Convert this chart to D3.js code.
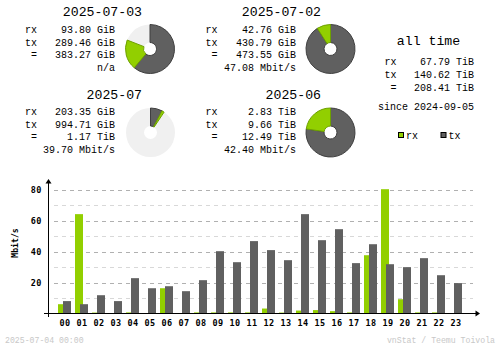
<!DOCTYPE html>
<html><head><meta charset="utf-8">
<script src="https://cdn.jsdelivr.net/npm/d3@7/dist/d3.min.js"></script>
<style>
html,body{margin:0;padding:0;background:#fff;}
svg{display:block;}
text{font-family:"Liberation Mono","DejaVu Sans Mono",monospace;}
text.b{font-family:"DejaVu Sans Mono",monospace;}
</style></head><body>
<svg id="c" width="500" height="348"></svg>
<script>
// ---- data ----
const hours = ["00","01","02","03","04","05","06","07","08","09","10","11","12","13","14","15","16","17","18","19","20","21","22","23"];
const rxMbit = [6.0,64.1,0.6,0,0.7,0,16.3,0,0.7,0.7,0.7,0.7,3.2,0.6,1.9,2.2,1.5,0.7,37.6,80.2,9.2,0.7,0.7,0];
const txMbit = [8.0,6.0,11.8,8.0,22.8,16.3,17.6,14.4,21.5,40.2,33.1,46.7,40.9,34.4,64.1,47.3,54.4,32.5,44.7,31.8,29.9,35.7,24.7,19.6];
const yMajorTicks = [20,40,60,80];
const yMinorTicks = [10,30,50,70];

const summaryTitles = ["2025-07-03","2025-07-02","2025-07","2025-06"];
const summaryRx = ["93.80 GiB","42.76 GiB","203.35 GiB","2.83 TiB"];
const summaryTx = ["289.46 GiB","430.79 GiB","994.71 GiB","9.66 TiB"];
const summaryTotal = ["383.27 GiB","473.55 GiB","1.17 TiB","12.49 TiB"];
const summaryRate = ["n/a","47.08 Mbit/s","39.70 Mbit/s","42.40 Mbit/s"];
const pieRxGiB = [93.80, 42.76, 203.35, 2.83*1024];
const pieTxGiB = [289.46, 430.79, 994.71, 9.66*1024];
const pieRefGiB = [473.55, 473.55, 12.49*1024, 12.49*1024];

const allTimeRx = "67.79 TiB", allTimeTx = "140.62 TiB", allTimeTotal = "208.41 TiB";
const sinceText = "since 2024-09-05";
const stampText = "2025-07-04 00:00";
const creditText = "vnStat / Teemu Toivola";

// ---- colors ----
const cRx = "#92cf00", cRxD = "#6ea100", cTx = "#606060", cTxD = "#3f3f3f";
const cLine = "#b0b0b0", cLineL = "#d8d8d8", cPieBg = "#f0f0f0";

const svg = d3.select("#c");

// ---- summary blocks ----
const blocks = [
  {i:0, lx:25, vx:115, tx:142, ty:16, r0:33, cx:150, cy:49},
  {i:1, lx:205.5, vx:296, tx:321, ty:16, r0:33, cx:330.5, cy:49},
  {i:2, lx:25, vx:115, tx:142, ty:99, r0:115, cx:150.5, cy:132.5},
  {i:3, lx:205.5, vx:296, tx:321, ty:99, r0:115, cx:330.5, cy:132.5}
];
const arc = d3.arc().innerRadius(6.5).outerRadius(24.5);
const lh = 12.5;
blocks.forEach(b => {
  const g = svg.append("g");
  g.append("text").attr("x", b.tx).attr("y", b.ty).attr("text-anchor","end")
    .attr("font-size", 13.2).text(summaryTitles[b.i]);
  const rows = [["rx", summaryRx[b.i]], ["tx", summaryTx[b.i]], [" =", summaryTotal[b.i]]];
  rows.forEach((r, k) => {
    g.append("text").attr("x", b.lx).attr("y", b.r0 + k*lh).attr("font-size", 10)
      .attr("xml:space","preserve").style("white-space","pre").text(r[0]);
    g.append("text").attr("x", b.vx).attr("y", b.r0 + k*lh).attr("font-size", 10)
      .attr("text-anchor","end").text(r[1]);
  });
  g.append("text").attr("x", b.vx).attr("y", b.r0 + 3*lh).attr("font-size", 10)
    .attr("text-anchor","end").text(summaryRate[b.i]);

  // pie
  const ang = d3.scaleLinear().domain([0, pieRefGiB[b.i]]).range([0, 2*Math.PI]);
  const pg = g.append("g").attr("transform", `translate(${b.cx},${b.cy})`);
  pg.append("path").attr("d", arc({startAngle:0, endAngle:2*Math.PI})).attr("fill", cPieBg);
  const aTx = ang(pieTxGiB[b.i]);
  const aRx = ang(pieTxGiB[b.i] + pieRxGiB[b.i]);
  pg.append("path").attr("d", arc({startAngle:0, endAngle:aTx}))
    .attr("fill", cTx).attr("stroke", cTxD).attr("stroke-width", 1);
  pg.append("path").attr("d", arc({startAngle:aTx, endAngle:Math.min(aRx, 2*Math.PI)}))
    .attr("fill", cRx).attr("stroke", cRxD).attr("stroke-width", 1);
});

// ---- all time ----
svg.append("text").attr("x", 428.5).attr("y", 44.5).attr("text-anchor","middle")
  .attr("font-size", 13.2).attr("xml:space","preserve").style("white-space","pre").text("all time");
[["rx", allTimeRx], ["tx", allTimeTx], [" =", allTimeTotal]].forEach((r, k) => {
  svg.append("text").attr("x", 384.5).attr("y", 64.5 + k*13).attr("font-size", 10)
    .attr("xml:space","preserve").style("white-space","pre").text(r[0]);
  svg.append("text").attr("x", 474).attr("y", 64.5 + k*13).attr("font-size", 10)
    .attr("text-anchor","end").text(r[1]);
});
svg.append("text").attr("x", 474).attr("y", 110).attr("font-size", 10)
  .attr("text-anchor","end").text(sinceText);
// legend
[["rx", cRx, 398.5], ["tx", cTx, 441]].forEach(l => {
  svg.append("rect").attr("x", l[2]).attr("y", 132.5).attr("width", 5).attr("height", 5)
    .attr("fill", l[1]).attr("stroke", "#000").attr("stroke-width", 1);
  svg.append("text").attr("x", l[2] + 7.5).attr("y", 139).attr("font-size", 10).text(l[0]);
});

// ---- hourly bar chart ----
const x = d3.scaleBand().domain(hours).range([56, 464]).paddingInner(0).paddingOuter(0);
const y = d3.scaleLinear().domain([0, 80]).range([313.5, 189.5]);
const gridX0 = 54, gridX1 = 473;

svg.append("g").selectAll("line").data(yMinorTicks).join("line")
  .attr("x1", gridX0).attr("x2", gridX1)
  .attr("y1", d => Math.round(y(d)) + 0.5).attr("y2", d => Math.round(y(d)) + 0.5)
  .attr("stroke", cLineL).attr("stroke-dasharray", "4,4");
svg.append("g").selectAll("line").data(yMajorTicks).join("line")
  .attr("x1", gridX0).attr("x2", gridX1)
  .attr("y1", d => Math.round(y(d)) + 0.5).attr("y2", d => Math.round(y(d)) + 0.5)
  .attr("stroke", cLine).attr("stroke-dasharray", "4,4");

// bars
const bars = svg.append("g");
bars.selectAll("rect.rx").data(hours).join("rect").attr("class","rx")
  .attr("x", d => x(d) + 2).attr("width", 8)
  .attr("y", (d,i) => y(rxMbit[i])).attr("height", (d,i) => y(0) - y(rxMbit[i]))
  .attr("fill", cRx);
bars.selectAll("rect.tx").data(hours).join("rect").attr("class","tx")
  .attr("x", d => x(d) + 7).attr("width", 8)
  .attr("y", (d,i) => y(txMbit[i])).attr("height", (d,i) => y(0) - y(txMbit[i]))
  .attr("fill", cTx);

// axes
const ax = svg.append("g");
ax.append("line").attr("x1", 48.5).attr("x2", 48.5).attr("y1", 181).attr("y2", 317).attr("stroke", "#000");
ax.append("path").attr("d", "M48.5,179 L45.5,183.5 L51.5,183.5 Z").attr("fill", "#000");
ax.append("line").attr("x1", 44).attr("x2", 477).attr("y1", 313.5).attr("y2", 313.5).attr("stroke", "#000");
ax.append("path").attr("d", "M480,313.5 L475.5,310.5 L475.5,316.5 Z").attr("fill", "#000");

// x labels
svg.append("g").selectAll("text").data(hours).join("text").attr("class","b")
  .attr("x", d => x(d) + x.bandwidth()/2 + 0.5).attr("y", 325.5)
  .attr("text-anchor","middle").attr("font-size", 8.5).attr("font-weight","bold")
  .attr("letter-spacing", 0.5).text(d => d);
// y labels
svg.append("g").selectAll("text").data(yMajorTicks).join("text").attr("class","b")
  .attr("x", 42).attr("y", d => y(d) + 3)
  .attr("text-anchor","end").attr("font-size", 8.5).attr("font-weight","bold")
  .attr("letter-spacing", 0.5).text(d => d);
svg.append("text").attr("class","b").attr("transform", "translate(17.5,243) rotate(-90)")
  .attr("text-anchor","middle").attr("font-size", 8.2).attr("font-weight","bold").text("Mbit/s");

// footer
svg.append("text").attr("x", 5).attr("y", 343).attr("font-size", 8.2).attr("fill", "#c8c8c8").text(stampText);
svg.append("text").attr("x", 495).attr("y", 343).attr("text-anchor","end").attr("font-size", 8.2).attr("fill", "#c8c8c8").text(creditText);
</script></body></html>
